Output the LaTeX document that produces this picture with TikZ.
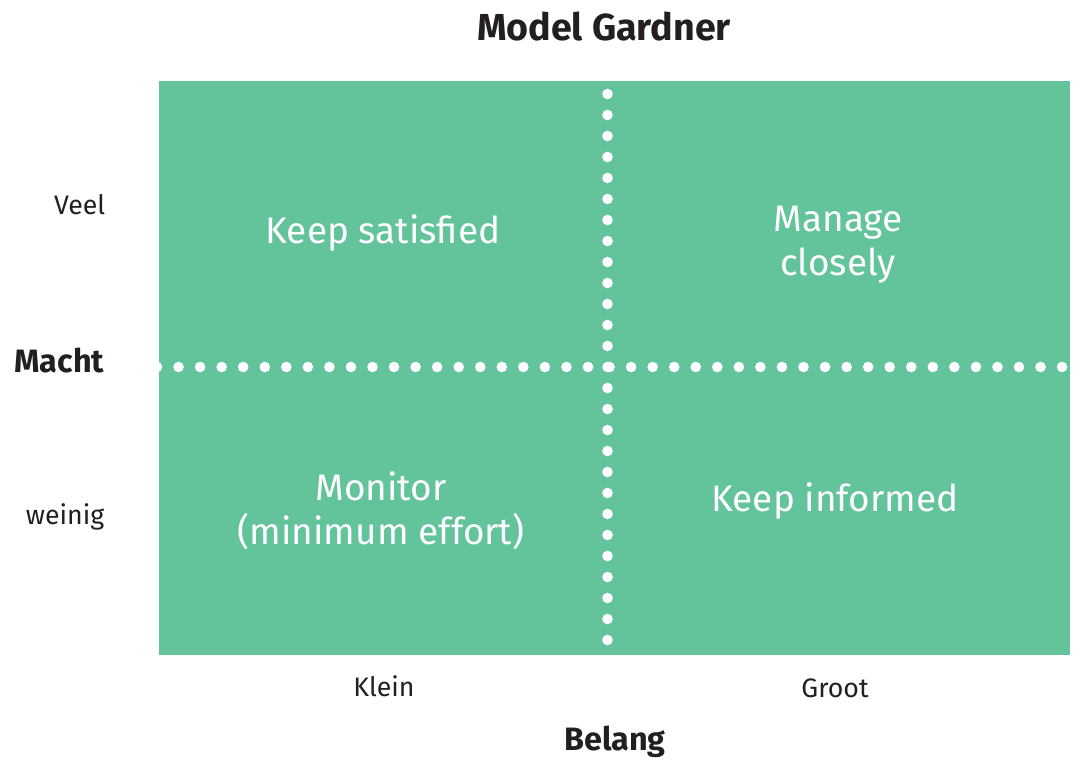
\documentclass[tikz,border=0pt]{standalone}
\usepackage{fontspec}
\setmainfont{Fira Sans}
\definecolor{gardnergreen}{HTML}{63C39B}
\definecolor{labelgray}{HTML}{231F20}
\tikzset{
  quadtext/.style={text=white,font=\fontsize{10.5}{12.6}\selectfont,align=center,inner sep=0pt},
  axislabel/.style={text=labelgray,font=\fontsize{7.6}{9}\selectfont,inner sep=0pt},
  axistitle/.style={text=labelgray,font=\bfseries\fontsize{9.2}{10}\selectfont,inner sep=0pt},
}
\begin{document}
\begin{tikzpicture}[x=0.01cm,y=-0.01cm]
        \useasboundingbox (0,0) rectangle (1076,758);
        \node[text=labelgray,font=\bfseries\fontsize{10.7}{12}\selectfont,inner sep=0pt] (title) at (604,27) {Model Gardner};
        \begin{scope}
            \fill[gardnergreen] (159,81) rectangle (1070,655);
            \clip (159,81) rectangle (1070,655);
            % dotted axes
            \foreach \i in {0,...,42}
                \fill[white] ({157+21.55*\i},367) circle (0.053cm);
            \foreach \j in {-13,...,13}
                \fill[white] (607.5,{367+21*\j}) circle (0.053cm);
        \end{scope}
        \node[quadtext] (satisfied) at (383,233) {Keep satisfied};
        \node[quadtext] (manage) at (838,245) {Manage\\closely};
        \node[quadtext] (monitor) at (381,511) {Monitor\\(minimum effort)};
        \node[quadtext] (informed) at (835,501) {Keep informed};
        % vertical axis
        \node[axislabel,anchor=east] (veel) at (106,205) {Veel};
        \node[axistitle,anchor=east] (macht) at (105,361) {Macht};
        \node[axislabel,anchor=east] (weinig) at (105,517) {weinig};
        % horizontal axis
        \node[axislabel] (klein) at (384,686) {Klein};
        \node[axislabel] (groot) at (835,688) {Groot};
        \node[axistitle] (belang) at (615,742) {Belang};
    \end{tikzpicture}
\end{document}
